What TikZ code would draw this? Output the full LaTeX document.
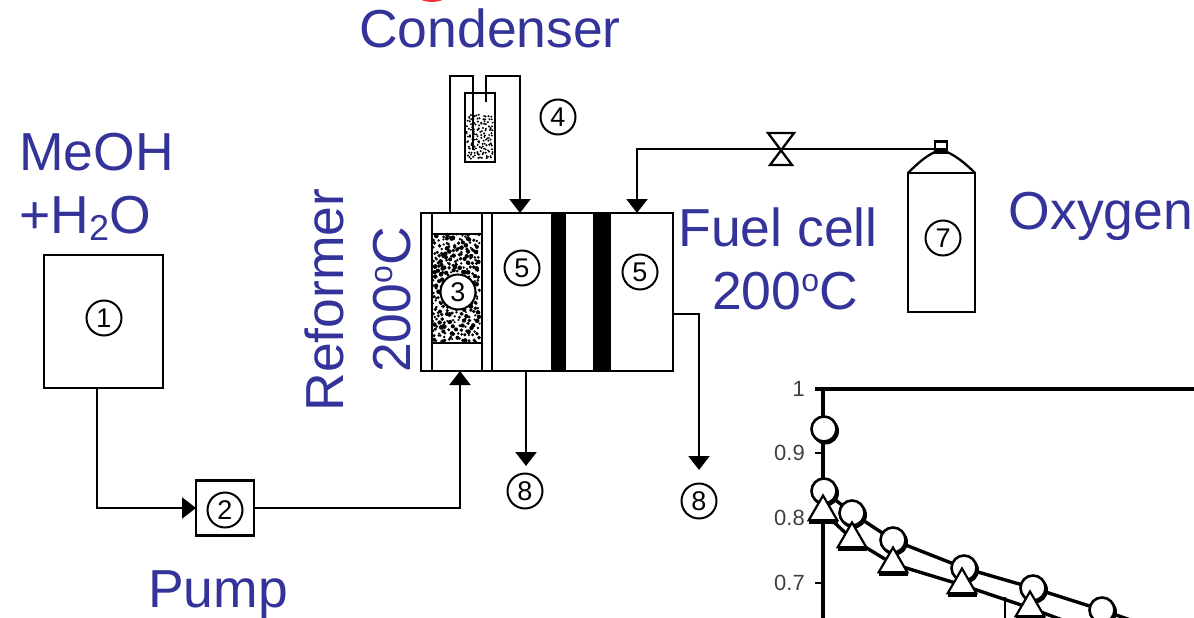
\documentclass[tikz,border=0pt]{standalone}
\usepackage{fontspec}
\setmainfont{Liberation Sans}
\usetikzlibrary{shapes.geometric,arrows.meta,backgrounds}
\definecolor{labelblue}{HTML}{333399}
\newcommand{\degmark}{\raisebox{18pt}{\fontsize{32}{32}\selectfont o}}
\newcommand{\subtwo}{\raisebox{-7pt}{\fontsize{36}{36}\selectfont 2}}
\tikzset{
  basic/.style = {draw, rectangle, line width=2.3pt, outer sep=0pt, inner sep=0pt},
  numcircle/.style = {draw, circle, fill=white, line width=2pt, minimum size=35pt, inner sep=0pt, font=\fontsize{27}{27}\selectfont},
  bluelabel/.style = {text=labelblue, align=center, inner sep=0pt, anchor=base, font=\fontsize{53.5}{62}\selectfont},
  pipe/.style = {draw, line width=2.3pt},
  flow/.style = {pipe, -{Triangle[width=21pt,length=14pt]}},
  ticklabel/.style = {text=black!75, inner sep=0pt, font=\fontsize{22}{22}\selectfont},
  ring/.style = {draw, circle, fill=white, line width=2.6pt, minimum size=25pt, inner sep=0pt},
  wedge/.style = {draw, regular polygon, regular polygon sides=3, fill=white, line width=2.2pt, minimum size=33pt, inner sep=0pt},
}
\begin{document}
\begin{tikzpicture}[x=1pt, y=-1pt]

 \clip (0,0) rectangle (1194,618);
 \fill[red!80] (432,-3) ellipse (13 and 5);

 % labels
 \node[bluelabel] (condenserlabel) at (490,48) {Condenser};
 \node[bluelabel, anchor=base west] (meohlabel) at (19,170) {MeOH};
 \node[bluelabel, anchor=base west] (waterlabel) at (19,233) {+H\subtwo O};
 \node[bluelabel, rotate=90] (reformerlabel) at (343,300) {Reformer};
 \node[bluelabel, rotate=90] (templabel) at (410,300) {200\degmark C};
 \node[bluelabel] (celllabel) at (778,246) {Fuel cell};
 \node[bluelabel] (celltemplabel) at (785,309) {200\degmark C};
 \node[bluelabel] (oxygenlabel) at (1101,229) {Oxygen};
 \node[bluelabel] (pumplabel) at (218,607) {Pump};

 % feed
 \node[basic, minimum width=119pt, minimum height=133pt] (tank) at (103.5,321.5) {};
 \node[basic, minimum width=58pt, minimum height=55pt] (pump) at (225,508) {};
 \node[numcircle] (num1) at (104,318) {1};
 \node[numcircle] (num2) at (225,510) {2};
 \coordinate (tankout) at (97,388);
 \coordinate (reformerin) at (460,371);
 \draw[flow] (tankout) |- (pump.west);
 \draw[flow] (pump.east) -| (reformerin);

 % stack
 \node[basic, minimum width=252pt, minimum height=158pt] (stack) at (547,292) {};
 \draw[pipe] (432,213) -- (432,371);
 \draw[pipe] (482,213) -- (482,371);
 \draw[pipe] (492,213) -- (492,371);
 \fill (551,213) rectangle (566,371);
 \fill (593,213) rectangle (611,371);
 \node[basic, minimum width=50pt, minimum height=109pt] (catalyst) at (457,288.5) {};
 \pgfmathsetseed{11}
 \foreach \gx in {434,438,...,480} {
   \foreach \gy in {236,240,...,340} {
     \pgfmathsetmacro\px{\gx+rand*2}
     \pgfmathsetmacro\py{\gy+rand*2}
     \pgfmathsetmacro\pr{1.1+abs(rand)*1.3}
     \fill (\px,\py) circle (\pr);
   }
 }
 \node[numcircle] (num3) at (458,292) {3};
 \node[numcircle] (num5a) at (522,268) {5};
 \node[numcircle] (num5b) at (640,272) {5};

 % condenser
 \node[basic, minimum width=30pt, minimum height=69pt] (vial) at (480,127.5) {};
 \foreach \gx in {468,471,...,493} {
   \foreach \gy in {116,119,...,160} {
     \pgfmathsetmacro\px{\gx+rand*1.5}
     \pgfmathsetmacro\py{\gy+rand*1.5}
     \fill (\px,\py) circle (1.1);
   }
 }
 \coordinate (reformerout) at (450,213);
 \coordinate (vialin) at (473,150);
 \coordinate (vialout) at (486,102);
 \coordinate (anodein) at (520,213);
 \coordinate (cathodein) at (637,213);
 \draw[pipe] (reformerout) |- (473,76) -- (vialin);
 \draw[flow] (vialout) |- (520,76) -- (anodein);
 \node[numcircle] (num4) at (558,117) {4};

 % oxygen
 \node[basic, minimum width=67pt, minimum height=139pt] (cylinder) at (941.5,242.5) {};
 \node[basic, minimum width=12pt, minimum height=11pt] (neck) at (941,147) {};
 \fill (935,148) rectangle (947,153);
 \draw[pipe] (cylinder.north west) .. controls (918,163) and (926,156) .. (935,152);
 \draw[pipe] (cylinder.north east) .. controls (965,163) and (956,156) .. (947,152);
 \node[numcircle] (num7) at (943,238) {7};
 \coordinate (oxout) at (935,149);
 \draw[flow] (oxout) -| (cathodein);
 \draw[line width=2.3pt, fill=white] (768,133) -- (794,133) -- (770,165) -- (792,165) -- cycle;

 % exhausts
 \node[numcircle] (num8a) at (525,491) {8};
 \node[numcircle] (num8b) at (699,501) {8};
 \coordinate (anodeout) at (526,371);
 \coordinate (cathodeout) at (673,314);
 \draw[flow] (anodeout) -- (526,466);
 \draw[flow] (cathodeout) -| (699,470);

 % chart
 \draw[line width=3.2pt] (815,389) -- (1194,389);
 \draw[line width=3.6pt] (823,389) -- (823,625);
 \foreach \tick/\ty in {1/389, 0.9/453, 0.8/518, 0.7/583} {
   \draw[line width=2.5pt] (815,\ty) -- (823,\ty);
   \node[ticklabel, anchor=east] (tick\ty) at (805,\ty) {\tick};
 }
 \draw[line width=1.8pt] (1005,597) -- (1005,625);
 \foreach \x/\y [count=\n] in {824/429, 824/491, 852/513, 893/540, 964/568, 1033/588, 1102/610, 1170/634} {
   \fill (\x+1.5,\y+2) circle (13.5);
   \node[ring] (ring\n) at (\x,\y) {};
 }
 \foreach \x/\y [count=\n] in {823/512, 852/539, 893/564, 962/585, 1030/608} {
   \fill (\x-14,\y+8) rectangle (\x+15,\y+12);
   \node[wedge] (wedge\n) at (\x,\y) {};
 }
 \coordinate (wedgeend) at (1100,634);
 \begin{scope}[on background layer]
   \draw[line width=3.4pt] (ring2.center) -- (ring3.center) -- (ring4.center) -- (ring5.center) -- (ring6.center) -- (ring7.center) -- (ring8.center);
   \draw[line width=3.4pt] (wedge1.center) -- (wedge2.center) -- (wedge3.center) -- (wedge4.center) -- (wedge5.center) -- (wedgeend);
 \end{scope}

\end{tikzpicture}
\end{document}
